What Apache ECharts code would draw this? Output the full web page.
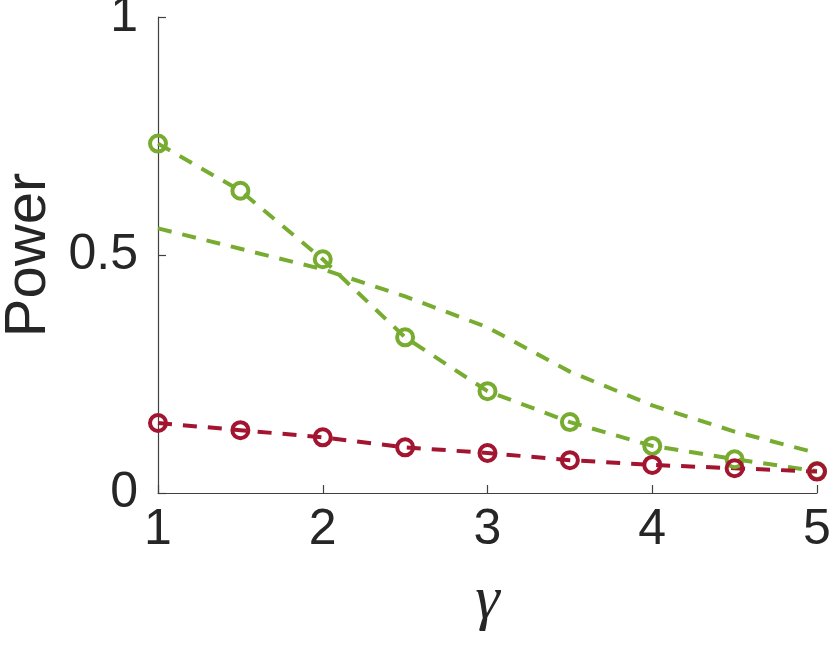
<!DOCTYPE html>
<html>
<head>
<meta charset="utf-8">
<script src="https://cdn.jsdelivr.net/npm/echarts@6/dist/echarts.min.js"></script>
<style>
  html, body { margin: 0; padding: 0; background: #fff; }
  #main { width: 830px; height: 657px; }
</style>
</head>
<body>
<div id="main"></div>
<script>
// gamma values
var gammas = [1, 1.5, 2, 2.5, 3, 3.5, 4, 4.5, 5];
// power curves
var greenMarked = [0.734, 0.635, 0.491, 0.327, 0.214, 0.149, 0.099, 0.071, 0.046];
var greenPlain = [0.556, 0.513, 0.470, 0.413, 0.348, 0.255, 0.184, 0.129, 0.084];
var redMarked = [0.147, 0.132, 0.117, 0.096, 0.084, 0.069, 0.059, 0.052, 0.045];

var xTicks = [1, 2, 3, 4, 5];
var yTicks = [0, 0.5, 1];

function pairs(ys) {
  return gammas.map(function (g, i) { return [g, ys[i]]; });
}

var green = "#77AC30";
var red = "#A2142F";
var axisColor = "#404040";
var textColor = "#262626";

var chart = echarts.init(document.getElementById("main"));

function lineSeries(name, ys, color, marked) {
  return {
    name: name,
    type: "line",
    data: pairs(ys),
    showSymbol: marked,
    symbol: marked ? "circle" : "none",
    symbolSize: 16,
    itemStyle: {
      color: "rgba(255,255,255,0)",
      borderColor: color,
      borderWidth: 4
    },
    lineStyle: {
      color: color,
      width: 4,
      type: [14, 11]
    },
    animation: false,
    silent: true
  };
}

var option = {
  backgroundColor: "#fff",
  grid: {
    left: 158,
    right: 13,
    top: 17,
    bottom: 164,
    containLabel: false,
    outerBoundsMode: "none"
  },
  xAxis: {
    type: "value",
    min: 1,
    max: 5,
    interval: 1,
    name: "γ",
    nameLocation: "middle",
    nameGap: 78,
    nameTextStyle: {
      fontFamily: "Liberation Serif",
      fontStyle: "italic",
      fontSize: 62,
      color: textColor
    },
    axisLine: { show: true, lineStyle: { color: axisColor, width: 1.2 } },
    axisTick: { show: true, inside: true, length: 8, lineStyle: { color: axisColor, width: 1.2 } },
    splitLine: { show: false },
    axisLabel: {
      fontFamily: "Liberation Sans",
      fontSize: 50,
      color: textColor,
      margin: 12,
      formatter: function (v) { return xTicks.indexOf(v) >= 0 ? String(v) : ""; }
    }
  },
  yAxis: {
    type: "value",
    min: 0,
    max: 1,
    interval: 0.5,
    name: "Power",
    nameLocation: "middle",
    nameGap: 100,
    nameTextStyle: {
      fontFamily: "Liberation Sans",
      fontSize: 58,
      color: textColor
    },
    axisLine: { show: true, lineStyle: { color: axisColor, width: 1.2 } },
    axisTick: { show: true, inside: true, length: 8, lineStyle: { color: axisColor, width: 1.2 } },
    splitLine: { show: false },
    axisLabel: {
      fontFamily: "Liberation Sans",
      fontSize: 50,
      color: textColor,
      margin: 20,
      formatter: function (v) { return yTicks.indexOf(v) >= 0 ? String(v) : ""; }
    }
  },
  series: [
    lineSeries("plain", greenPlain, green, false),
    lineSeries("green", greenMarked, green, true),
    lineSeries("red", redMarked, red, true)
  ]
};

chart.setOption(option);
</script>
</body>
</html>
